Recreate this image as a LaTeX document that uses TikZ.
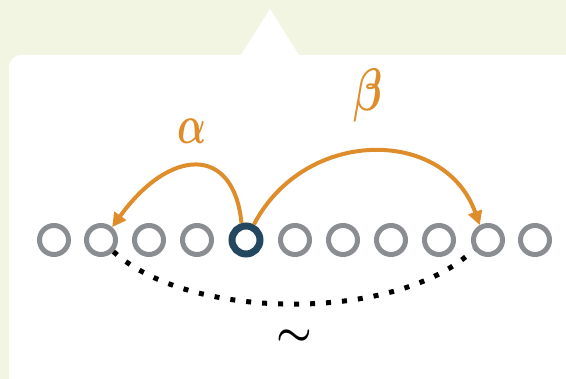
\documentclass[tikz,border=0pt]{standalone}
\usetikzlibrary{arrows.meta}
\definecolor{bgc}{HTML}{F2F5E1}
\definecolor{dotgray}{HTML}{8A8D91}
\definecolor{darkblue}{HTML}{22475F}
\definecolor{arrorange}{HTML}{DF8C2B}
\begin{document}
\begin{tikzpicture}[x=1pt,y=1pt,
  site/.style={circle,draw=dotgray,line width=5pt,inner sep=0pt,minimum size=29pt},
  center/.style={site,draw=darkblue,line width=7pt,minimum size=28pt},
  jump/.style={draw=arrorange,line width=4pt,-{Triangle[length=14pt,width=14pt]}},
  lbl/.style={text=arrorange,inner sep=0pt,font=\boldmath},
  chain/.style={line width=5pt,dash pattern=on 5pt off 11pt,line cap=butt}]
\useasboundingbox (0,0) rectangle (566,379);
\fill[bgc] (0,0) rectangle (566,379);
\fill[white] (9,-2) -- (9,312) arc[start angle=180,end angle=90,radius=12] -- (241,324) -- (270,370) -- (299,324) -- (568,324) -- (568,-2) -- cycle;
\foreach \i/\x in {1/54,2/101,3/149,4/197,6/295,7/343,8/391,9/439,10/488,11/535}
  \node[site] (c\i) at (\x,139) {};
\node[center] (c5) at (246,139) {};
\draw[jump] (c5.105) .. controls (234,234) and (170,232) .. (c2.49);
\draw[jump] (c5.63) .. controls (305,252) and (445,252) .. (c10.119);
\node[lbl,xscale=3.8,yscale=5.5] (a) at (192,248) {$\alpha$};
\node[lbl,xscale=4.2,yscale=6] (b) at (368,283) {$\beta$};
\draw[chain] (c2.-43) .. controls (190,57) and (400,57) .. (c10.-146);
\node[scale=4,inner sep=0pt,font=\boldmath] (t) at (294,41) {$\sim$};
\end{tikzpicture}
\end{document}
